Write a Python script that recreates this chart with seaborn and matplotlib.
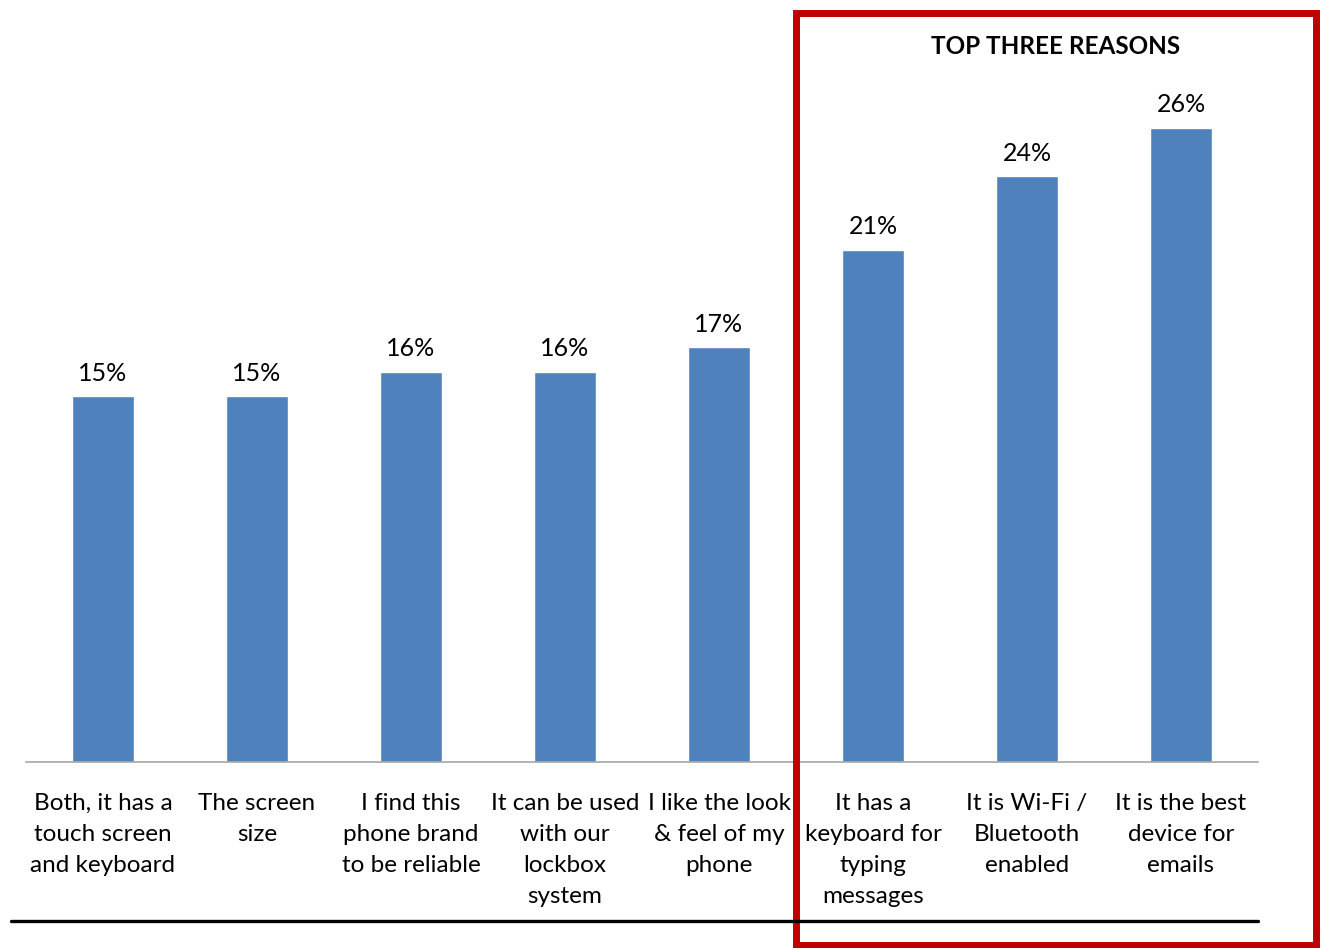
import matplotlib
matplotlib.use("Agg")
import matplotlib.pyplot as plt
import seaborn as sns
import pandas as pd
from matplotlib.patches import Rectangle
from matplotlib.lines import Line2D

categories = [
    "Both, it has a\ntouch screen\nand keyboard",
    "The screen\nsize",
    "I find this\nphone brand\nto be reliable",
    "It can be used\nwith our\nlockbox\nsystem",
    "I like the look\n& feel of my\nphone",
    "It has a\nkeyboard for\ntyping\nmessages",
    "It is Wi-Fi /\nBluetooth\nenabled",
    "It is the best\ndevice for\nemails",
]
values = [15, 15, 16, 16, 17, 21, 24, 26]
value_labels = ["15%", "15%", "16%", "16%", "17%", "21%", "24%", "26%"]
highlight_title = "TOP THREE REASONS"

sns.set_theme(style="white")
plt.rcParams['font.family'] = ['Lato', 'DejaVu Sans']

W, H = 1321, 948
fig = plt.figure(figsize=(W / 100, H / 100), dpi=100)
ax = fig.add_axes([26 / W, (H - 762) / H, 1232 / W, 732 / H])

df = pd.DataFrame({"cat": categories, "val": values})
sns.barplot(data=df, x="cat", y="val", color="#4F81BD", saturation=1, width=0.4, ax=ax)
ax.set_xlim(-0.5, 7.5)
ax.set_ylim(0, 30)
ax.set_xlabel("")
ax.set_ylabel("")
ax.set_yticks([])
for s in ["top", "right", "left"]:
    ax.spines[s].set_visible(False)
ax.spines["bottom"].set_color("#A6A6A6")
ax.spines["bottom"].set_linewidth(1.2)
ax.tick_params(axis="x", length=0, pad=22, labelsize=17.5, colors="black")
for t in ax.get_xticklabels():
    t.set_ha("center")
    t.set_multialignment("center")
    t.set_linespacing(1.6)
    t.set_va("top")

for i, (v, lab) in enumerate(zip(values, value_labels)):
    ax.annotate(lab, (i, v), xytext=(0, 8), textcoords="offset points",
                ha="center", va="bottom", fontsize=18, color="black")

# black rule at bottom
fig.add_artist(Line2D([11 / W, 1258 / W], [(H - 921) / H, (H - 921) / H],
                      transform=fig.transFigure, color="black", lw=2.4))
# red highlight box
fig.add_artist(Rectangle((796 / W, (H - 945) / H), (1316 - 796) / W, (945 - 13) / H,
                         transform=fig.transFigure, fill=False, edgecolor="#C00000", lw=5))
fig.text(1056 / W, (H - 46) / H, highlight_title, ha="center", va="center",
         fontsize=17.5, fontweight="bold", color="black")

fig.savefig("out.png", dpi=100)
